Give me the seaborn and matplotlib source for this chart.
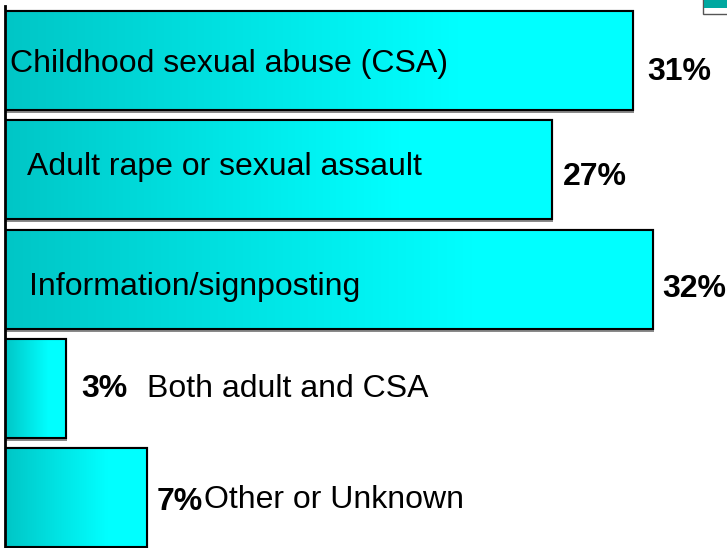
import numpy as np
import pandas as pd
import matplotlib
matplotlib.use("Agg")
import matplotlib.pyplot as plt
import matplotlib.patheffects as pe
from matplotlib.colors import LinearSegmentedColormap
from matplotlib.patches import Rectangle
import seaborn as sns

# data
categories = ["Childhood sexual abuse (CSA)", "Adult rape or sexual assault",
              "Information/signposting", "Both adult and CSA", "Other or Unknown"]
values = [31, 27, 32, 3, 7]
value_labels = ["31%", "27%", "32%", "3%", "7%"]

df = pd.DataFrame({"category": categories, "pct": values})

# label layout, in pixels (dx from anchor, baseline below bar centre)
cat_dx = [5, 22, 24, 142, 199]
cat_base = [11.5, 5.2, 16, 8.5, 10]
val_dx = [15, 11, 9, 16, 10]
val_base = [19, 15, 18, 8.5, 12]

sns.set_style("white")
plt.rcParams["font.family"] = ["Liberation Sans", "DejaVu Sans"]
plt.rcParams["text.color"] = "black"

fig = plt.figure(figsize=(7.27, 5.48), dpi=100)
ax = fig.add_axes([5 / 727, -4.5 / 548, 722 / 727, 546.5 / 548])

sns.barplot(data=df, x="pct", y="category", orient="h", color="#00ffff",
            edgecolor="black", linewidth=1.5, width=0.906, ax=ax, zorder=2)

cmap = LinearSegmentedColormap.from_list(
    "bar_grad", [(0, "#00c6c6"), (0.72, "#00ffff"), (1, "#00ffff")])
grad = np.linspace(0, 1, 256).reshape(1, -1)

for p in ax.patches:
    p.set_path_effects([pe.withSimplePatchShadow(offset=(1, -2), shadow_rgbFace="#8a8a8a", alpha=1)])
    x0, y0 = p.get_xy()
    w, h = p.get_width(), p.get_height()
    im = ax.imshow(grad, extent=[x0, x0 + w, y0 + h, y0], aspect="auto",
                   cmap=cmap, zorder=2.5, interpolation="bilinear")
    im.set_clip_path(p)
    ax.add_patch(Rectangle((x0, y0), w, h, facecolor="none", edgecolor="black",
                           linewidth=1.5, zorder=3))

ax.set_xlim(0, 722 / 20.25)
ax.set_ylim(len(categories) - 0.5, -0.5)

for i, (cat, v, lab) in enumerate(zip(categories, values, value_labels)):
    ax.annotate(lab, (v, i), xytext=(val_dx[i], -val_base[i]), textcoords="offset pixels",
                ha="left", va="baseline", fontsize=23, fontweight="bold", color="black", zorder=5)
    ax.annotate(cat, (0, i), xytext=(cat_dx[i], -cat_base[i]), textcoords="offset pixels",
                ha="left", va="baseline", fontsize=23, color="black", zorder=5)

ax.set_xlabel("")
ax.set_ylabel("")
ax.set_xticks([])
ax.set_yticks([])
for s in ["top", "right", "bottom"]:
    ax.spines[s].set_visible(False)
ax.spines["left"].set_color("black")
ax.spines["left"].set_linewidth(2)
ax.spines["left"].set_zorder(4)

# clipped legend box in the top right corner
fig.patches.append(Rectangle((703 / 727, 534 / 548), 30 / 727, 20 / 548, transform=fig.transFigure,
                             facecolor="white", edgecolor="#555555", linewidth=1))
fig.patches.append(Rectangle((704 / 727, 540 / 548), 30 / 727, 10 / 548, transform=fig.transFigure,
                             facecolor="#00a8a0", edgecolor="none"))

fig.savefig("out.png", dpi=100)
